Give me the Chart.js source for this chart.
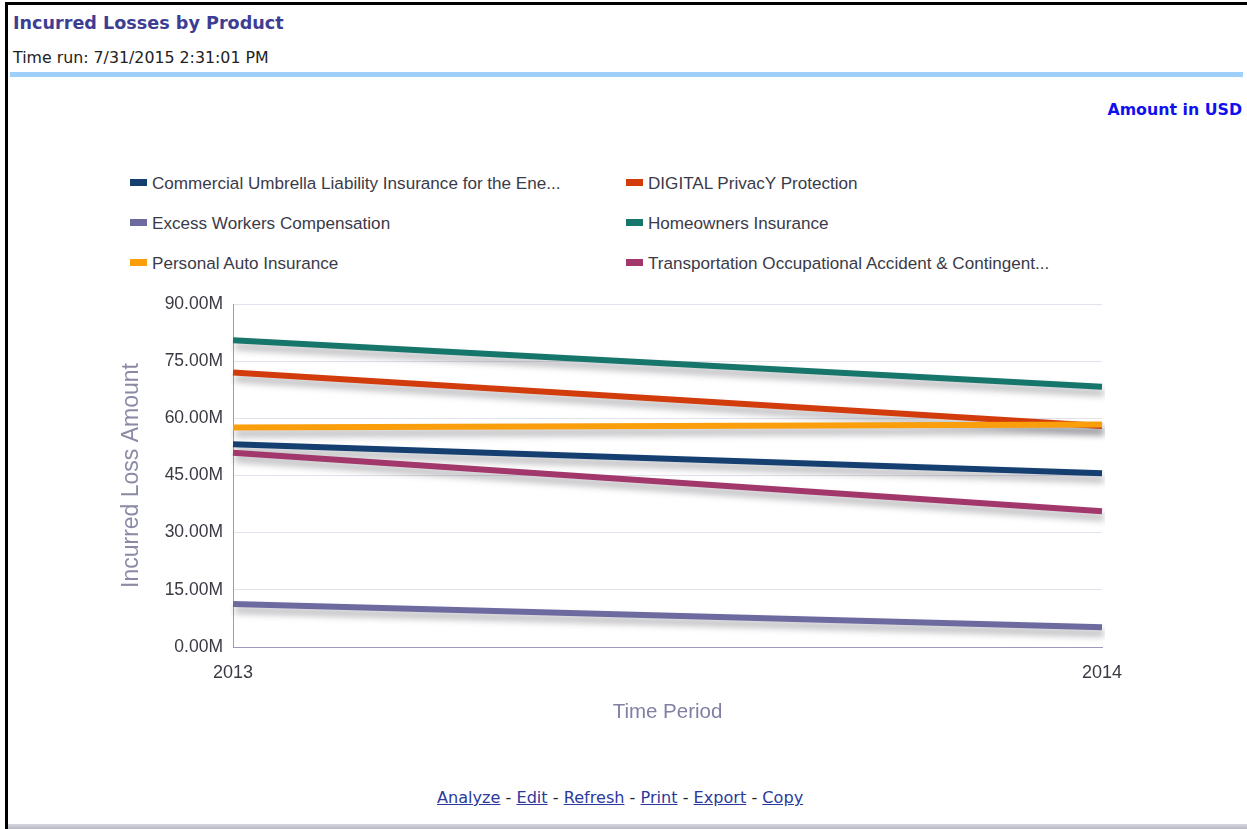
<!DOCTYPE html>
<html>
<head>
<meta charset="utf-8">
<script src="https://cdn.jsdelivr.net/npm/chart.js@4"></script>
<style>
    body { margin: 0; width: 1247px; height: 829px; background: #fff; overflow: hidden; position: relative; font-family: 'Liberation Sans', Arial, sans-serif; }
    .frame { position: absolute; left: 5px; top: 2px; width: 1242px; height: 827px; border-left: 3px solid #000; border-top: 3px solid #000; box-sizing: border-box; }
    .bottom-bar { position: absolute; left: 8px; right: 0; top: 824px; height: 5px; background: linear-gradient(#d6d6de, #b8b8c4); }
    .title { position: absolute; left: 13px; top: 13px; font: bold 17.6px 'DejaVu Sans', Tahoma, sans-serif; color: #3d3d94; }
    .timerun { position: absolute; left: 13px; top: 48px; font: 15.8px 'DejaVu Sans', Tahoma, sans-serif; color: #222; }
    .rule { position: absolute; left: 10px; right: 4px; top: 72px; height: 5px; background: #9fd0fb; }
    .units { position: absolute; right: 5px; top: 100px; font: bold 15.8px 'DejaVu Sans', Tahoma, sans-serif; color: #1010ee; }
    .legend { position: absolute; left: 130px; top: 174px; width: 1000px; }
    .legend .item { position: absolute; font-size: 17.1px; color: #3a3a48; white-space: nowrap; }
    .legend .sw { display: inline-block; width: 17px; height: 7px; margin-right: 5px; vertical-align: 3px; }
    #chartBox { position: absolute; left: 0; top: 280px; width: 1247px; height: 460px; }
    .links { position: absolute; left: 437px; top: 788px; font: 16.1px 'DejaVu Sans', Tahoma, sans-serif; color: #222; }
    .links a { color: #2b3a9c; text-decoration: underline; }
</style>
</head>
<body>
<div class="frame"></div>
<div class="bottom-bar"></div>
<div class="title">Incurred Losses by Product</div>
<div class="timerun">Time run: 7/31/2015 2:31:01 PM</div>
<div class="rule"></div>
<div class="units">Amount in USD</div>
<div class="legend" id="legend"></div>
<div id="chartBox"><canvas id="lossChart"></canvas></div>
<div class="links"><a>Analyze</a> - <a>Edit</a> - <a>Refresh</a> - <a>Print</a> - <a>Export</a> - <a>Copy</a></div>

<script>
// Данные графика
const years = ['2013', '2014'];
const productNames = [
    'Commercial Umbrella Liability Insurance for the Ene...',
    'DIGITAL PrivacY Protection',
    'Excess Workers Compensation',
    'Homeowners Insurance',
    'Personal Auto Insurance',
    'Transportation Occupational Accident & Contingent...'
];
const commercialUmbrella = [53.2, 45.6];
const digitalPrivacy = [72.0, 58.0];
const excessWorkers = [11.3, 5.2];
const homeowners = [80.5, 68.3];
const personalAuto = [57.6, 58.4];
const transportation = [51.0, 35.6];
const yTicks = [0, 15, 30, 45, 60, 75, 90];

const productColors = ['#143f70', '#d23c0c', '#6d6a9f', '#17766b', '#fb9e0b', '#a2376c'];
const seriesValues = [commercialUmbrella, digitalPrivacy, excessWorkers, homeowners, personalAuto, transportation];

// Легенда в две колонки
const legendBox = document.getElementById('legend');
productNames.forEach((name, i) => {
    const item = document.createElement('div');
    item.className = 'item';
    item.style.left = (i % 2 === 0 ? 0 : 496) + 'px';
    item.style.top = (Math.floor(i / 2) * 40) + 'px';
    item.innerHTML = '<span class="sw" style="background:' + productColors[i] + '"></span>' + name;
    legendBox.appendChild(item);
});

// Тень под линиями
const lineShadow = {
    id: 'lineShadow',
    beforeDatasetDraw(chart) {
        const c = chart.ctx;
        c.save();
        c.shadowColor = 'rgba(60, 60, 70, 0.4)';
        c.shadowBlur = 7;
        c.shadowOffsetX = 2;
        c.shadowOffsetY = 6;
    },
    afterDatasetDraw(chart) {
        chart.ctx.restore();
    }
};

document.addEventListener('DOMContentLoaded', function() {
    const ctx = document.getElementById('lossChart').getContext('2d');

    new Chart(ctx, {
        type: 'line',
        data: {
            labels: years,
            datasets: productNames.map((name, i) => ({
                label: name,
                data: seriesValues[i],
                borderColor: productColors[i],
                backgroundColor: productColors[i],
                borderWidth: 6,
                pointRadius: 0,
                tension: 0,
                order: productNames.length - i
            }))
        },
        options: {
            responsive: true,
            maintainAspectRatio: false,
            animation: false,
            layout: {
                padding: { top: 24, right: 145, left: 0, bottom: 0 }
            },
            plugins: {
                legend: { display: false },
                tooltip: { enabled: false }
            },
            scales: {
                y: {
                    min: 0,
                    max: 90,
                    afterFit: function(scale) { scale.width = 233; },
                    afterBuildTicks: function(scale) {
                        scale.ticks = yTicks.map(v => ({ value: v }));
                    },
                    ticks: {
                        callback: function(value) {
                            return value.toFixed(2) + 'M';
                        },
                        color: '#3a3a44',
                        padding: 10,
                        font: { family: "'Liberation Sans', Arial", size: 17.5 }
                    },
                    title: {
                        display: true,
                        text: 'Incurred Loss Amount',
                        color: '#8a8aa6',
                        padding: { top: 118, bottom: 0 },
                        font: { family: "'Liberation Sans', Arial", size: 23 }
                    },
                    border: { color: '#9a9ac0', width: 1 },
                    grid: {
                        color: '#e2e2ec',
                        drawTicks: false
                    }
                },
                x: {
                    offset: false,
                    afterFit: function(scale) { scale.height = 93; },
                    ticks: {
                        color: '#3a3a44',
                        padding: 15,
                        maxRotation: 0,
                        font: { family: "'Liberation Sans', Arial", size: 18 }
                    },
                    title: {
                        display: true,
                        text: 'Time Period',
                        color: '#8080a4',
                        padding: { top: 0, bottom: 15 },
                        font: { family: "'Liberation Sans', Arial", size: 20.5 }
                    },
                    border: { color: '#9a9ac0', width: 1 },
                    grid: { display: false, drawTicks: false }
                }
            }
        },
        plugins: [lineShadow]
    });
});
</script>
</body>
</html>
